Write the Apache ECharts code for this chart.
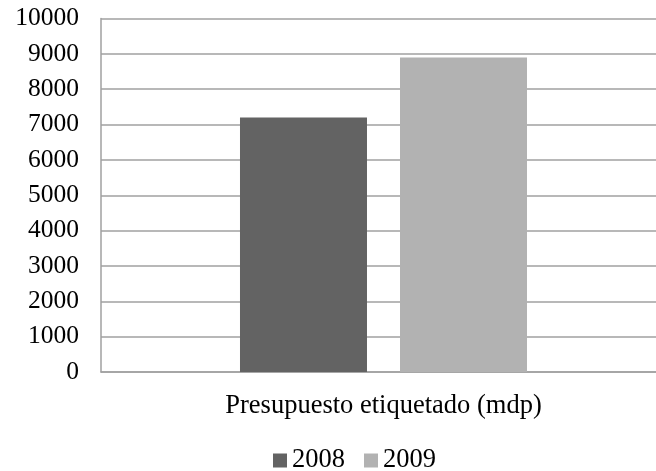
<!DOCTYPE html>
<html>
<head>
<meta charset="utf-8">
<script src="https://cdn.jsdelivr.net/npm/echarts@6/dist/echarts.min.js"></script>
<style>
html,body{margin:0;padding:0;background:#fff;}
#chart{width:656px;height:471px;}
</style>
</head>
<body>
<div id="chart"></div>
<script>
const categories = ['Presupuesto etiquetado (mdp)'];
const seriesNames = ['2008', '2009'];
const values2008 = [7200];
const values2009 = [8900];
const yTicks = [0, 1000, 2000, 3000, 4000, 5000, 6000, 7000, 8000, 9000, 10000];

const FONT = '"Liberation Serif", "Times New Roman", serif';
const chart = echarts.init(document.getElementById('chart'));
chart.setOption({
  animation: false,
  backgroundColor: '#ffffff',
  grid: { left: 101, width: 565, top: 18.5, height: 353.5, containLabel: false, outerBoundsMode: 'none' },
  legend: {
    data: seriesNames,
    top: 442,
    left: 268,
    itemWidth: 14,
    itemHeight: 14,
    itemGap: 19,
    icon: 'rect',
    textStyle: { fontFamily: FONT, fontSize: 26.5, color: '#000' }
  },
  xAxis: {
    type: 'category',
    data: categories,
    axisLine: { show: true, lineStyle: { color: '#a0a0a0', width: 1.5 } },
    axisTick: { show: false },
    axisLabel: { fontFamily: FONT, fontSize: 26.5, color: '#000', margin: 21 }
  },
  yAxis: {
    type: 'value',
    min: yTicks[0],
    max: yTicks[yTicks.length - 1],
    interval: 1000,
    axisLine: { show: true, lineStyle: { color: '#a0a0a0', width: 1.5 } },
    axisTick: { show: false },
    splitLine: { show: true, lineStyle: { color: '#a0a0a0', width: 1.5 } },
    axisLabel: { fontFamily: FONT, fontSize: 25.5, color: '#000', margin: 22, formatter: function (v) { return String(v); } }
  },
  series: [
    { name: seriesNames[0], type: 'bar', data: values2008, barWidth: 127, barGap: '26%', itemStyle: { color: '#636363' } },
    { name: seriesNames[1], type: 'bar', data: values2009, barWidth: 127, barGap: '26%', itemStyle: { color: '#b2b2b2' } }
  ]
});
</script>
</body>
</html>
